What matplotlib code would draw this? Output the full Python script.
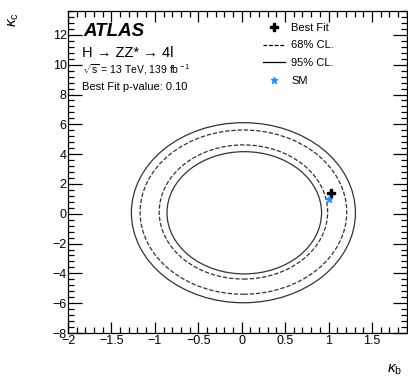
import matplotlib
matplotlib.use('Agg')
import matplotlib.pyplot as plt
from matplotlib.patches import Ellipse
from matplotlib.lines import Line2D
from matplotlib.ticker import MultipleLocator

plt.rcParams['font.family'] = ['Liberation Sans', 'DejaVu Sans']
plt.rcParams['mathtext.fontset'] = 'custom'
plt.rcParams['mathtext.rm'] = 'Liberation Sans'
plt.rcParams['mathtext.it'] = 'Liberation Sans:italic'

# contour rings, inner 95%, inner 68%, outer 68%, outer 95%
ring_cl = ['95', '68', '68', '95']
ring_kb0 = [0.03, 0.02, 0.02, 0.02]
ring_kc0 = [0.065, 0.12, 0.11, 0.07]
ring_rkb = [0.89, 0.97, 1.19, 1.29]
ring_rkc = [4.10, 4.50, 5.51, 6.04]

best_fit = (1.03, 1.40)
sm_point = (1.0, 1.0)

xticks = [-2, -1.5, -1, -0.5, 0, 0.5, 1, 1.5]
yticks = [-8, -6, -4, -2, 0, 2, 4, 6, 8, 10, 12]

fig = plt.figure(figsize=(4.08, 3.87), dpi=100)
ax = fig.add_axes([0.1667, 0.1395, 0.83, 0.832])

ls = {'95': '-', '68': (0, (3.5, 1.5))}
for cl, x0, y0, rx, ry in zip(ring_cl, ring_kb0, ring_kc0, ring_rkb, ring_rkc):
    e = Ellipse((x0, y0), 2 * rx, 2 * ry, fill=False, edgecolor='#333333',
                linewidth=0.9, linestyle=ls[cl])
    ax.add_patch(e)

ax.plot(best_fit[0], best_fit[1], marker='P', color='black', markersize=5.5, linestyle='none')
ax.plot(sm_point[0], sm_point[1], marker='*', color='#1e90ff', markersize=5, linestyle='none')

ax.set_xlim(-2, 1.9)
ax.set_ylim(-8, 13.6)
ax.set_xticks(xticks)
ax.set_xticklabels(['\u22122', '\u22121.5', '\u22121', '\u22120.5', '0', '0.5', '1', '1.5'])
ax.set_yticks(yticks)
ax.set_yticklabels([str(t).replace('-', '\u2212') for t in yticks])
ax.xaxis.set_minor_locator(MultipleLocator(0.1))
ax.yaxis.set_minor_locator(MultipleLocator(0.4))
ax.tick_params(which='both', direction='in', top=True, right=True, labelsize=9, width=0.9)
ax.tick_params(which='major', axis='x', length=8, pad=1.5)
ax.tick_params(which='major', axis='y', length=10, pad=1)
ax.tick_params(which='minor', length=4.5)
for s in ax.spines.values():
    s.set_linewidth(0.9)

fig.text(0.968, 0.045, r'$\kappa_{\rm b}$', fontsize=11, ha='center', va='center')
fig.text(0.035, 0.95, r'$\kappa_{\rm c}$', fontsize=11, ha='center', va='center', rotation=90)

ax.text(0.045, 0.935, 'ATLAS', transform=ax.transAxes, fontsize=13.5,
        fontweight='bold', fontstyle='italic', va='center')
ax.text(0.04, 0.87, 'H \u2192 ZZ* \u2192 4l', transform=ax.transAxes,
        fontsize=10.5, va='center')
ax.text(0.04, 0.818, r'$\sqrt{\rm s}$ = 13 TeV, 139 fb$^{\rm -1}$', transform=ax.transAxes,
        fontsize=7.5, va='center')
ax.text(0.04, 0.765, 'Best Fit p-value: 0.10', transform=ax.transAxes,
        fontsize=8, va='center')

handles = [
    Line2D([], [], marker='P', color='black', linestyle='none', markersize=5.5),
    Line2D([], [], color='black', linewidth=0.9, linestyle=(0, (3, 1.5))),
    Line2D([], [], color='black', linewidth=0.9, linestyle='-'),
    Line2D([], [], marker='*', color='#1e90ff', linestyle='none', markersize=5),
]
labels = ['Best Fit', '68% CL.', '95% CL.', 'SM']
ax.legend(handles, labels, loc='upper left', bbox_to_anchor=(0.545, 0.995), frameon=False,
          fontsize=8, handlelength=2.0, handletextpad=0.6, labelspacing=0.7)

fig.savefig('out.png', dpi=100)
